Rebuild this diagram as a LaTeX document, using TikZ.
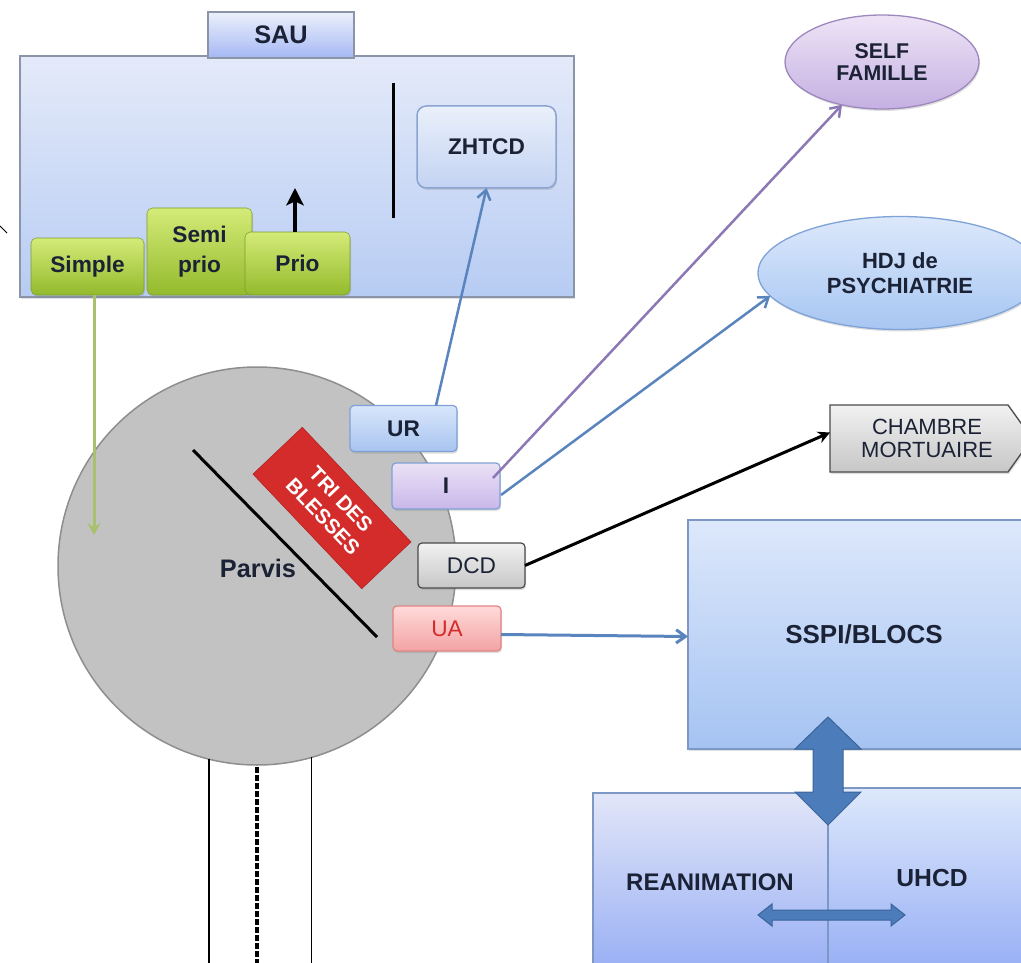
\documentclass[tikz,border=0pt]{standalone}
\usepackage{fontspec}
\setmainfont{Liberation Sans}
\usetikzlibrary{arrows.meta,calc,shadows,shapes.geometric}
\newcommand\pxu{0.75pt}

\definecolor{ink}{HTML}{1B2236}
\definecolor{sauTop}{HTML}{E4EAF9}
\definecolor{sauBot}{HTML}{B7CCF3}
\definecolor{sauLine}{HTML}{8C95A8}
\definecolor{grTop}{HTML}{D4EB78}
\definecolor{grBot}{HTML}{93BA2C}
\definecolor{grLine}{HTML}{7E9C2E}
\definecolor{zhTop}{HTML}{EAF0FB}
\definecolor{zhBot}{HTML}{C3D3F2}
\definecolor{zhLine}{HTML}{8BA3D0}
\definecolor{parvisFill}{HTML}{C2C2C2}
\definecolor{parvisLine}{HTML}{8E8E8E}
\definecolor{triFill}{HTML}{D42C2A}
\definecolor{triLine}{HTML}{B01E1E}
\definecolor{urTop}{HTML}{D9E6FB}
\definecolor{urBot}{HTML}{A8C4F0}
\definecolor{urLine}{HTML}{7FA0D4}
\definecolor{iTop}{HTML}{EAE2F6}
\definecolor{iBot}{HTML}{C8B7EA}
\definecolor{dcdTop}{HTML}{F2F2F2}
\definecolor{dcdBot}{HTML}{C6C6C6}
\definecolor{dcdLine}{HTML}{4A4A4A}
\definecolor{uaTop}{HTML}{FFDADA}
\definecolor{uaBot}{HTML}{F3A3A3}
\definecolor{uaLine}{HTML}{E08484}
\definecolor{uaText}{HTML}{D42A2A}
\definecolor{selfTop}{HTML}{EEE4F6}
\definecolor{selfBot}{HTML}{C5B0E2}
\definecolor{selfLine}{HTML}{9C88BE}
\definecolor{hdjTop}{HTML}{DCE8FB}
\definecolor{hdjBot}{HTML}{A7C6F2}
\definecolor{hdjLine}{HTML}{7FA3D6}
\definecolor{blocTop}{HTML}{DDE8FB}
\definecolor{blocBot}{HTML}{A5C3F2}
\definecolor{blocLine}{HTML}{7D98C4}
\definecolor{reaTop}{HTML}{E2E6F8}
\definecolor{flowBlue}{HTML}{5A84BE}
\definecolor{flowPurple}{HTML}{8C78B4}
\definecolor{flowGreen}{HTML}{A9C16E}
\definecolor{blockArrow}{HTML}{4C7DBA}
\definecolor{blockArrowLine}{HTML}{3A6499}

\begin{document}
\begin{tikzpicture}[
  x=0.75pt, y=-0.75pt,
  every node/.style={inner sep=0pt, outer sep=0pt},
  txt/.style={text=ink, align=center, font=\bfseries\fontsize{17}{20}\selectfont},
  softshadow/.style={drop shadow={opacity=0.25, shadow xshift=0.8pt, shadow yshift=-1.5pt}},
  greenbox/.style={txt, draw=grLine, top color=grTop, bottom color=grBot,
    rounded corners=4pt, softshadow},
  smallbox/.style={txt, rounded corners=3pt, line width=1.2*\pxu, softshadow,
    minimum width=107*\pxu, minimum height=46*\pxu},
  openhead/.style={-{Straight Barb[length=7pt,width=10pt]}},
]
\useasboundingbox (0,0) rectangle (1021,963);

% ---------- SAU unit ----------
\node[draw=sauLine, line width=1.2*\pxu, top color=sauTop, bottom color=sauBot,
      minimum width=554*\pxu, minimum height=241*\pxu, softshadow] (sau) at (297,176.5) {};
\node[txt, font=\bfseries\fontsize{19}{22}\selectfont, draw=sauLine, line width=1.2*\pxu,
      top color=sauTop!70!white, bottom color=sauBot!90!blue,
      minimum width=146*\pxu, minimum height=46*\pxu] (sautab) at (281,35) {SAU};
\draw[line width=3*\pxu] (393,83) -- (393,218);
\node[txt, draw=zhLine, line width=1.5*\pxu, top color=zhTop, bottom color=zhBot,
      rounded corners=7pt, minimum width=139*\pxu, minimum height=82*\pxu, softshadow] (zhtcd) at (486.5,147) {ZHTCD};

\node[greenbox, minimum width=113*\pxu, minimum height=57*\pxu] (simple) at (87.5,266.5) {Simple};
\node[greenbox, font=\bfseries\fontsize{17}{22.5}\selectfont,
      minimum width=105*\pxu, minimum height=87*\pxu] (semi) at (199.5,251.5) {Semi\\prio};
\node[greenbox, minimum width=105*\pxu, minimum height=63*\pxu] (prio) at (297.5,263.5) {Prio};
\coordinate (prioup) at (295,188);
\draw[line width=3.5*\pxu, -{Stealth[length=13pt,width=13pt,inset=3pt]}] ($(prio.north)+(-2.5,0)$) -- (prioup);

\draw[line width=1*\pxu] (0,226) -- (7,233);

% ---------- Parvis ----------
\node[circle, draw=parvisLine, fill=parvisFill, line width=1.5*\pxu, minimum size=398*\pxu] (parvis) at (257,566) {};
\draw[line width=1.3*\pxu] (parvis.256) -- (parvis.256 |- 0,1000);
\draw[line width=1.3*\pxu] (parvis.286) -- (parvis.286 |- 0,1000);
\draw[line width=3.5*\pxu, dash pattern=on 4.5pt off 1.5pt] ($(parvis.south)+(0,2)$) -- (parvis.south |- 0,1000);
\node[txt, font=\bfseries\fontsize{19}{22}\selectfont] (parvislbl) at (258,568) {Parvis};
\draw[line width=3*\pxu] (193,450) -- (377,637);
\node[fill=triFill, draw=triLine, rotate=-46.5, minimum width=158*\pxu, minimum height=68*\pxu,
      text=white, align=center, font=\bfseries\fontsize{15.5}{18.5}\selectfont] (tri) at (332,508) {TRI DES\\BLESSES};

\coordinate (greenend) at (94,535);
\draw[flowGreen, line width=3*\pxu, -{Stealth[length=9pt,width=10pt]}] ($(simple.south)+(6.5,0)$) -- (greenend);

% ---------- sorting outputs ----------
\node[smallbox, draw=urLine, top color=urTop, bottom color=urBot] (ur) at (403.5,428.5) {UR};
\node[smallbox, draw=urLine, top color=iTop, bottom color=iBot, minimum width=108*\pxu] (i) at (446,486) {I};
\node[smallbox, draw=dcdLine, top color=dcdTop, bottom color=dcdBot, font=\fontsize{17}{20}\selectfont,
      minimum height=45*\pxu] (dcd) at (471.5,565.5) {DCD};
\node[smallbox, draw=uaLine, top color=uaTop, bottom color=uaBot, text=uaText, font=\fontsize{17}{20}\selectfont,
      minimum width=108*\pxu, minimum height=45*\pxu] (ua) at (447,628.5) {UA};

% ---------- destinations ----------
\node[ellipse, txt, font=\bfseries\fontsize{16}{16.5}\selectfont, draw=selfLine, line width=1.3*\pxu,
      top color=selfTop, bottom color=selfBot, minimum width=194*\pxu, minimum height=94*\pxu, softshadow] (self) at (882,62) {SELF\\FAMILLE};
\node[ellipse, txt, font=\bfseries\fontsize{16.5}{19}\selectfont, draw=hdjLine, line width=1.3*\pxu,
      top color=hdjTop, bottom color=hdjBot, minimum width=284*\pxu, minimum height=113*\pxu, softshadow] (hdj) at (900,273) {HDJ de\\PSYCHIATRIE};
\draw[draw=dcdLine, line width=1.3*\pxu, top color=dcdTop, bottom color=dcdBot, softshadow]
  (830,405) -- (1008,405) -- (1032,438.5) -- (1008,472) -- (830,472) -- cycle;
\node[txt, font=\fontsize{16.5}{17}\selectfont, minimum width=194*\pxu, minimum height=67*\pxu] (chambre) at (927,438.5) {CHAMBRE\\MORTUAIRE};

\node[txt, font=\bfseries\fontsize{19.5}{22}\selectfont, draw=blocLine, line width=1.3*\pxu,
      top color=blocTop, bottom color=blocBot, minimum width=352*\pxu, minimum height=229*\pxu, softshadow] (sspi) at (864,634.5) {SSPI/BLOCS};

\draw[draw=blocLine, line width=1.3*\pxu, top color=reaTop, bottom color=blocBot!85!blue] (593,793) rectangle (828,1000);
\draw[draw=blocLine, line width=1.3*\pxu, top color=blocTop, bottom color=blocBot!85!blue] (828,788) rectangle (1040,1000);
\node[txt, font=\bfseries\fontsize{18}{20}\selectfont] (rea) at (710,882) {REANIMATION};
\node[txt, font=\bfseries\fontsize{18.5}{20}\selectfont] (uhcd) at (932,878) {UHCD};

% block arrows between the care units
\filldraw[fill=blockArrow, draw=blockArrowLine, line width=1*\pxu]
  (828,717) -- (861,749) -- (843,749) -- (843,792) -- (861,792) -- (828,825)
  -- (795,792) -- (813,792) -- (813,749) -- (795,749) -- cycle;
\filldraw[fill=blockArrow, draw=blockArrowLine, line width=1*\pxu]
  (758,915) -- (772,904) -- (772,910) -- (891,910) -- (891,904) -- (905,915)
  -- (891,926) -- (891,920) -- (772,920) -- (772,926) -- cycle;

% ---------- flows ----------
\draw[flowBlue, line width=2.5*\pxu, openhead] ($(ur.north)+(32.5,0)$) -- (zhtcd.south);
\draw[flowPurple, line width=2.5*\pxu, openhead] ($(i.east)+(-7,-8)$) -- (self);
\draw[flowBlue, line width=2.5*\pxu, openhead] ($(i.east)+(1,9)$) -- (hdj.190);
\draw[black, line width=3*\pxu, -{Stealth[length=9pt,width=9pt]}] (dcd.east) -- ($(chambre.west)+(0,-6)$);
\draw[flowBlue, line width=3*\pxu, openhead] ($(ua.east)+(0,6)$) -- ($(sspi.west)+(0,2)$);
\end{tikzpicture}
\end{document}
